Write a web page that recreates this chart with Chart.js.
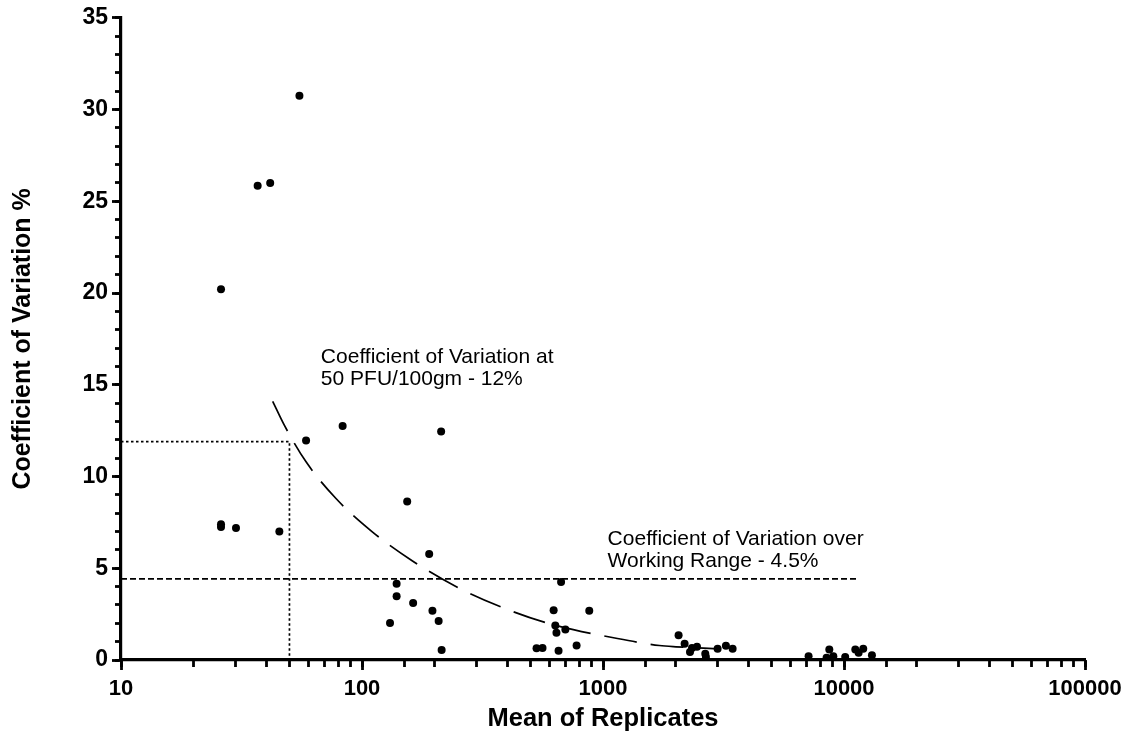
<!DOCTYPE html>
<html>
<head>
<meta charset="utf-8">
<script src="https://cdn.jsdelivr.net/npm/chart.js@4.4.1/dist/chart.umd.min.js"></script>
<style>
  html, body { margin: 0; padding: 0; background: #fff; }
  #wrap { width: 1128px; height: 737px; }
</style>
</head>
<body>
<div id="wrap"><canvas id="cvChart" width="1128" height="737"></canvas></div>
<script>
// measured replicates (mean, CV %)
const meanValues = [26.0, 26.0, 26.0, 30.0, 36.9, 41.6, 45.4, 55.0, 58.6, 83.1,
    130.7, 139.2, 139.2, 154, 163, 190, 196, 208, 213, 214,
    530, 561, 624, 634, 641, 654, 670, 698, 777, 877,
    2059, 2181, 2296, 2340, 2455, 2657, 2673, 2989, 3236, 3450,
    7129, 8466, 8690, 9030, 10115, 11140, 11500, 12020, 13060];
const cvValues = [20.2, 7.4, 7.25, 7.2, 25.85, 26.0, 7.0, 30.75, 11.96, 12.75,
    2.02, 4.16, 3.47, 8.64, 3.11, 5.78, 2.68, 2.13, 12.45, 0.55,
    0.64, 0.66, 2.71, 1.88, 1.48, 0.50, 4.25, 1.66, 0.79, 2.68,
    1.35, 0.88, 0.43, 0.66, 0.72, 0.34, 0.17, 0.61, 0.77, 0.61,
    0.20, 0.12, 0.57, 0.21, 0.17, 0.57, 0.39, 0.61, 0.26];

// fitted curve
const fitX = [42.6, 47.6, 58.6, 78, 110, 162, 254, 402, 618, 1148, 1714, 2008, 3000];
const fitY = [14.1, 12.8, 10.8, 8.8, 7.0, 5.4, 3.9, 2.75, 1.93, 1.17, 0.79, 0.72, 0.61];

// reference lines
const cvAt50X = [10, 50, 50];
const cvAt50Y = [11.9, 11.9, 0];
const workRangeX = [10, 11500];
const workRangeY = [4.42, 4.42];

const xMajorTicks = [10, 100, 1000, 10000, 100000];

const notes = [
    { x: 67.5, y: 16.17, lines: ['Coefficient of Variation at', '50 PFU/100gm - 12%'] },
    { x: 1045, y: 6.28, lines: ['Coefficient of Variation over', 'Working Range - 4.5%'] }
];

const FONT = 'Arial, "Liberation Sans", sans-serif';

function pairs(xs, ys) {
    return xs.map((x, i) => ({ x: x, y: ys[i] }));
}

// text notes placed through the scales
const notePlugin = {
    id: 'notes',
    afterDatasetsDraw(chart) {
        const ctx = chart.ctx;
        const sx = chart.scales.x, sy = chart.scales.y;
        ctx.save();
        ctx.fillStyle = '#000';
        ctx.font = '21px ' + FONT;
        ctx.textAlign = 'left';
        ctx.textBaseline = 'alphabetic';
        notes.forEach(n => {
            const px = sx.getPixelForValue(n.x);
            const py = sy.getPixelForValue(n.y);
            n.lines.forEach((t, i) => ctx.fillText(t, px, py + i * 22));
        });
        ctx.restore();
    }
};

new Chart(document.getElementById('cvChart').getContext('2d'), {
    type: 'scatter',
    data: {
        datasets: [
            {
                data: pairs(meanValues, cvValues),
                backgroundColor: '#000',
                borderColor: '#000',
                pointRadius: 4,
                pointBorderWidth: 0
            },
            {
                data: pairs(fitX, fitY),
                showLine: true,
                borderColor: '#000',
                borderWidth: 1.7,
                borderDash: [33, 14],
                pointRadius: 0,
                cubicInterpolationMode: 'monotone'
            },
            {
                data: pairs(cvAt50X, cvAt50Y),
                showLine: true,
                borderColor: '#000',
                borderWidth: 1.7,
                borderDash: [2.5, 2.5],
                pointRadius: 0
            },
            {
                data: pairs(workRangeX, workRangeY),
                showLine: true,
                borderColor: '#000',
                borderWidth: 1.7,
                borderDash: [6, 3],
                pointRadius: 0
            }
        ]
    },
    options: {
        responsive: false,
        animation: false,
        layout: { padding: { top: 17, right: 43, left: 0, bottom: 0 } },
        plugins: {
            legend: { display: false },
            tooltip: { enabled: false }
        },
        scales: {
            x: {
                type: 'logarithmic',
                position: 'bottom',
                weight: 1,
                min: 10,
                max: 100000,
                afterBuildTicks: s => { s.ticks = xMajorTicks.map(v => ({ value: v })); },
                afterFit: s => { s.height = 77; },
                ticks: {
                    autoSkip: false,
                    maxRotation: 0,
                    padding: 6,
                    color: '#000',
                    font: { family: FONT, size: 22, weight: 'bold' },
                    callback: v => String(v)
                },
                grid: { drawOnChartArea: false, tickLength: 10, tickWidth: 2.8, tickColor: '#000' },
                border: { color: '#000', width: 3.2 },
                title: {
                    display: true,
                    text: 'Mean of Replicates',
                    color: '#000',
                    font: { family: FONT, size: 25.5, weight: 'bold' },
                    padding: { top: 0, bottom: 3 }
                }
            },
            xMinor: {
                type: 'logarithmic',
                position: 'bottom',
                weight: 0,
                min: 10,
                max: 100000,
                afterFit: s => { s.height = 0; },
                ticks: { display: false, autoSkip: false },
                grid: { drawOnChartArea: false, tickLength: 7, tickWidth: 2.8, tickColor: '#000' },
                border: { display: false }
            },
            y: {
                type: 'linear',
                position: 'left',
                weight: 1,
                min: 0,
                max: 35,
                afterFit: s => { s.width = 121; },
                ticks: {
                    stepSize: 5,
                    padding: 4,
                    color: '#000',
                    font: { family: FONT, size: 23, weight: 'bold' }
                },
                grid: { drawOnChartArea: false, tickLength: 9, tickWidth: 2.8, tickColor: '#000' },
                border: { color: '#000', width: 3.2 },
                title: {
                    display: true,
                    text: 'Coefficient of Variation %',
                    color: '#000',
                    font: { family: FONT, size: 25, weight: 'bold' },
                    padding: { top: 8, bottom: 0 }
                }
            },
            yMinor: {
                type: 'linear',
                position: 'left',
                weight: 0,
                min: 0,
                max: 35,
                afterFit: s => { s.width = 0; },
                ticks: { display: false, stepSize: 1 },
                grid: { drawOnChartArea: false, tickLength: 6, tickWidth: 2.8, tickColor: '#000' },
                border: { display: false }
            }
        }
    },
    plugins: [notePlugin]
});
</script>
</body>
</html>
